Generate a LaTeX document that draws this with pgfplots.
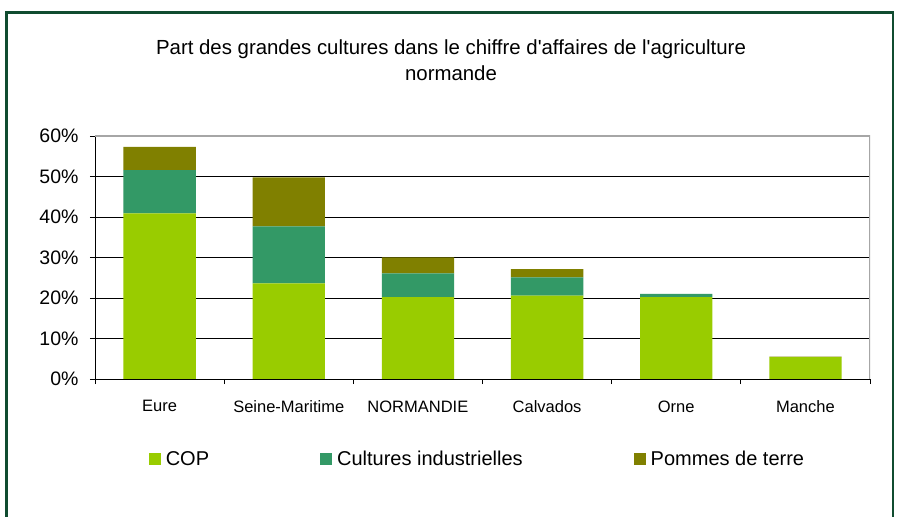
\documentclass[border=0pt]{standalone}
\usepackage{fontspec}
\setmainfont{Liberation Sans}[Ligatures=TeXOff]
\usepackage{pgfplots}
\pgfplotsset{compat=1.18}
\definecolor{cop}{RGB}{153,204,0}
\definecolor{cult}{RGB}{51,153,102}
\definecolor{pdt}{RGB}{128,128,0}
\definecolor{framegreen}{RGB}{16,76,48}
\begin{document}
\begin{tikzpicture}[x=1pt,y=1pt]
\useasboundingbox (0,0) rectangle (898,517);
\fill[white] (0,0) rectangle (898,517);
\draw[framegreen, line width=2.5pt] (6.5,-5) -- (6.5,504.5) -- (893,504.5) -- (893,-5);
\node[align=center, font=\fontsize{20.4}{26}\selectfont] at (451,457) {Part des grandes cultures dans le chiffre d'affaires de l'agriculture\\normande};
\begin{axis}[
  at={(95pt,138pt)}, anchor=south west,
  scale only axis, width=775pt, height=243pt,
  ybar stacked, bar width=0.56,
  xmin=-0.5, xmax=5.5, ymin=0, ymax=60,
  xtick={-0.5,0.5,1.5,2.5,3.5,4.5,5.5},
  xticklabels={Eure,Seine-Maritime,NORMANDIE,Calvados,Orne,Manche,{}},
  x tick label style={xshift=64.58pt, yshift=-13pt, font=\fontsize{16.5}{18}\selectfont},
  ytick={0,10,20,30,40,50,60},
  yticklabel={\pgfmathprintnumber{\tick}\%},
  y tick label style={xshift=-8pt, font=\fontsize{19.5}{22}\selectfont},
  /pgf/number format/assume math mode=true,
  ymajorgrids, grid style={black, line width=0.9pt},
  axis x line*=bottom, axis y line*=left,
  axis line style={black, line width=0.9pt, -},
  tick style={black, line width=0.9pt},
  tick align=outside, major tick length=5pt,
  legend columns=3,
  legend style={draw=none, fill=none, at={(rel axis cs:0.4935,-0.331)}, anchor=center,
    font=\fontsize{20}{24}\selectfont,
    /tikz/every even column/.append style={column sep=109pt},
    nodes={inner sep=2pt}},
  legend image code/.code={\fill[#1] (0pt,-6pt) rectangle (12pt,6.5pt);},
  legend cell align=left,
  /tikz/every odd column/.append style={column sep=3pt},
]
\addplot[fill=cop, draw=none] coordinates {(0,40.9) (1,23.6) (2,20.2) (3,20.6) (4,20.2) (5,5.4)};
\addplot[fill=cult, draw=none] coordinates {(0,10.7) (1,14.1) (2,5.9) (3,4.5) (4,0.8) (5,0)};
\addplot[fill=pdt, draw=none] coordinates {(0,5.7) (1,12.1) (2,3.9) (3,2.0) (4,0) (5,0.1)};
\legend{COP,Cultures industrielles,Pommes de terre}
\draw[gray!70, line width=1.2pt] (rel axis cs:0,1) -- (rel axis cs:1,1) -- (rel axis cs:1,0);
\end{axis}
\end{tikzpicture}
\end{document}
